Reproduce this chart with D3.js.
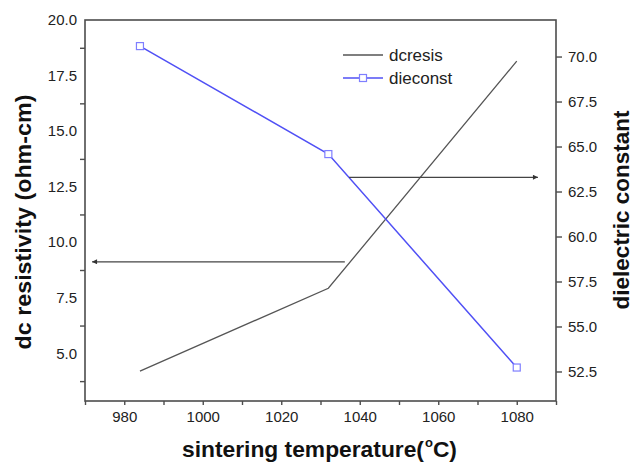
<!DOCTYPE html>
<html><head><meta charset="utf-8">
<script src="https://cdn.jsdelivr.net/npm/d3@7"></script>
<style>
html,body{margin:0;padding:0;background:#fff;}
svg{display:block;font-family:Arial,"Liberation Sans",Helvetica,sans-serif;}
</style></head>
<body><svg id="c" width="633" height="463"></svg>
<script>
// Data
const temps = [984, 1032, 1080];
const dcresis = [4.2, 7.93, 18.15];
const dieconst = [70.58, 64.58, 52.72];
const xTicksLabeled = [980, 1000, 1020, 1040, 1060, 1080];
const leftLabels = [5.0, 7.5, 10.0, 12.5, 15.0, 17.5, 20.0];
const leftTickMarks = [3.75, 6.25, 8.75, 11.25, 13.75, 16.25, 18.75];
const rightLabels = [52.5, 55.0, 57.5, 60.0, 62.5, 65.0, 67.5, 70.0];
// arrow annotations [x1, x2, y] in data units
const arrowLeft = {x1: 1036.2, x2: 971.8, y: 9.12};
const arrowRight = {x1: 1037.3, x2: 1085.4, y: 63.29};

const svg = d3.select("#c");
const L = 85, R = 556, T = 20, B = 401;
const x = d3.scaleLinear().domain([970, 1090]).range([L, R]);
const yL = d3.scaleLinear().domain([2.855, 20]).range([B, T]);
const yR = d3.scaleLinear().domain([50.86, 72.03]).range([B, T]);
const axisColor = "#4d4d4d";

svg.append("defs").append("marker")
  .attr("id", "ah").attr("viewBox", "0 0 10 10").attr("refX", 10).attr("refY", 5)
  .attr("markerWidth", 10).attr("markerHeight", 5).attr("markerUnits", "userSpaceOnUse")
  .attr("orient", "auto")
  .append("path").attr("d", "M0,0 L10,5 L0,10 Z").attr("fill", "#333");

// Frame
svg.append("rect").attr("x", L).attr("y", T).attr("width", R - L).attr("height", B - T)
  .attr("fill", "none").attr("stroke", axisColor).attr("stroke-width", 1.6);

// Bottom axis
const xAxis = d3.axisBottom(x).tickValues(d3.range(970, 1091, 10)).tickSize(4)
  .tickFormat(d => xTicksLabeled.includes(d) ? d : "");
const gx = svg.append("g").attr("transform", `translate(0,${B})`).call(xAxis);
gx.select(".domain").remove();
gx.selectAll("line").attr("stroke", axisColor).attr("stroke-width", 1.4);
gx.selectAll("text").attr("font-size", 15).attr("fill", "#222").attr("dy", "0.95em").attr("y", 7);

// Left axis: tick marks at minor positions, labels at majors
const yAxisL = d3.axisLeft(yL).tickValues(leftTickMarks).tickSize(5).tickFormat("");
const gl = svg.append("g").attr("transform", `translate(${L},0)`).call(yAxisL);
gl.select(".domain").remove();
gl.selectAll("line").attr("stroke", axisColor).attr("stroke-width", 1.4);
svg.append("g").selectAll("text").data(leftLabels).join("text")
  .attr("x", L - 8).attr("y", d => yL(d)).attr("dy", "0.35em")
  .attr("text-anchor", "end").attr("font-size", 15).attr("fill", "#222")
  .text(d => d.toFixed(1));

// Right axis
const yAxisR = d3.axisRight(yR).tickValues(rightLabels).tickSize(6).tickPadding(6)
  .tickFormat(d3.format(".1f"));
const gr = svg.append("g").attr("transform", `translate(${R},0)`).call(yAxisR);
gr.select(".domain").remove();
gr.selectAll("line").attr("stroke", axisColor).attr("stroke-width", 1.4);
gr.selectAll("text").attr("font-size", 15).attr("fill", "#222");

// Lines
const lineL = d3.line().x((d, i) => x(temps[i])).y(d => yL(d));
const lineR = d3.line().x((d, i) => x(temps[i])).y(d => yR(d));
svg.append("path").datum(dcresis).attr("d", lineL)
  .attr("fill", "none").attr("stroke", "#555").attr("stroke-width", 1.3);
svg.append("path").datum(dieconst).attr("d", lineR)
  .attr("fill", "none").attr("stroke", "#5050f5").attr("stroke-width", 1.5);
svg.append("g").selectAll("rect").data(dieconst).join("rect")
  .attr("x", (d, i) => x(temps[i]) - 3.5).attr("y", d => yR(d) - 3.5)
  .attr("width", 7).attr("height", 7)
  .attr("fill", "#fff").attr("stroke", "#7f7fff").attr("stroke-width", 1.2);

// Arrows
svg.append("line").attr("x1", x(arrowLeft.x1)).attr("x2", x(arrowLeft.x2))
  .attr("y1", yL(arrowLeft.y)).attr("y2", yL(arrowLeft.y))
  .attr("stroke", "#444").attr("stroke-width", 1.3).attr("marker-end", "url(#ah)");
svg.append("line").attr("x1", x(arrowRight.x1)).attr("x2", x(arrowRight.x2))
  .attr("y1", yR(arrowRight.y)).attr("y2", yR(arrowRight.y))
  .attr("stroke", "#444").attr("stroke-width", 1.3).attr("marker-end", "url(#ah)");

// Legend
const lg = svg.append("g");
lg.append("line").attr("x1", 343).attr("x2", 383).attr("y1", 55).attr("y2", 55)
  .attr("stroke", "#555").attr("stroke-width", 1.3);
lg.append("text").attr("x", 389).attr("y", 61).attr("font-size", 17).attr("fill", "#222").text("dcresis");
lg.append("line").attr("x1", 343).attr("x2", 383).attr("y1", 78).attr("y2", 78)
  .attr("stroke", "#5050f5").attr("stroke-width", 1.5);
lg.append("rect").attr("x", 359.5).attr("y", 74.5).attr("width", 7).attr("height", 7)
  .attr("fill", "#fff").attr("stroke", "#7f7fff").attr("stroke-width", 1.2);
lg.append("text").attr("x", 389).attr("y", 84).attr("font-size", 17).attr("fill", "#222").text("dieconst");

// Axis titles
const xt = svg.append("text").attr("x", 182).attr("y", 457)
  .attr("font-size", 22.8).attr("font-weight", "bold").attr("fill", "#111");
xt.append("tspan").text("sintering temperature(");
xt.append("tspan").attr("font-size", 13).attr("dy", -10).attr("dx", 1).text("o");
xt.append("tspan").attr("dy", 10).text("C)");

svg.append("text").attr("transform", "translate(31,222) rotate(-90)")
  .attr("text-anchor", "middle").attr("font-size", 22.5).attr("font-weight", "bold")
  .attr("fill", "#111").attr("textLength", 255).attr("lengthAdjust", "spacingAndGlyphs")
  .text("dc resistivity (ohm-cm)");
svg.append("text").attr("transform", "translate(629,210) rotate(-90)")
  .attr("text-anchor", "middle").attr("font-size", 22.5).attr("font-weight", "bold")
  .attr("fill", "#111")
  .text("dielectric constant");
</script></body></html>
